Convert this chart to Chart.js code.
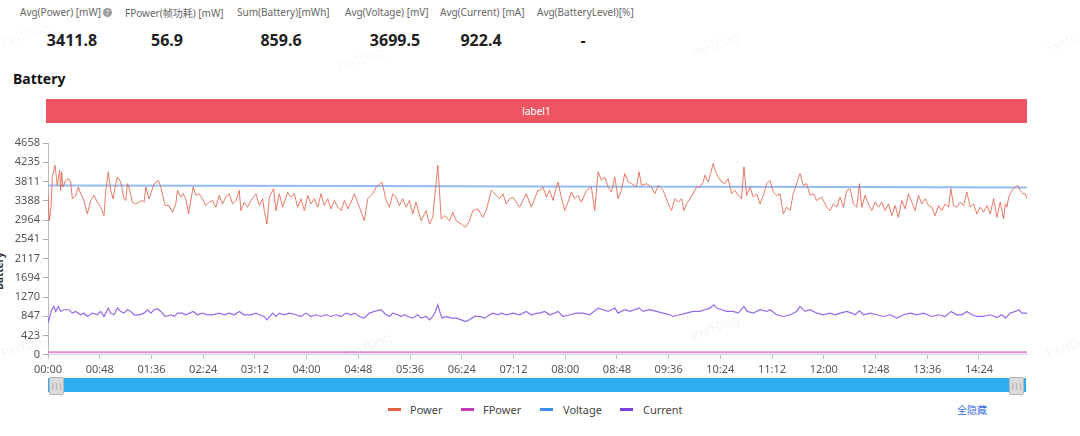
<!DOCTYPE html>
<html>
<head>
<meta charset="utf-8">
<script src="https://cdn.jsdelivr.net/npm/chart.js@4.4.1/dist/chart.umd.min.js"></script>
<style>
  html, body { margin:0; padding:0; background:#fff; }
  body { width:1080px; height:436px; overflow:hidden; position:relative; font-family:'Noto Sans','Noto Sans CJK SC',sans-serif; }
  .lbl { position:absolute; top:5px; font-size:10px; color:#666; white-space:nowrap; }
  .val { position:absolute; top:29px; font-size:16px; font-weight:bold; color:#222; transform:translateX(-50%); white-space:nowrap; }
  .q { display:inline-block; width:9px; height:9px; line-height:9px; border-radius:50%; background:#9a9a9a; color:#fff; font-size:7px; text-align:center; vertical-align:1px; margin-left:2px; }
  .title { position:absolute; left:13px; top:69px; font-size:14px; font-weight:bold; color:#111; }
  .bar { position:absolute; left:46px; top:99px; width:981px; height:24px; background:#ee5563; color:#fff; font-size:10px; text-align:center; line-height:24px; }
  .ytitle { position:absolute; left:-20px; top:264px; font-size:10px; font-weight:bold; color:#333; transform:rotate(-90deg); }
  #wrap { position:absolute; left:0; top:130px; width:1080px; height:250px; }
  .slider { position:absolute; left:48px; top:378px; width:978px; height:14px; background:#2fadf0; }
  .handle { position:absolute; top:377px; width:13px; height:16px; background:#dcdcdc; border:1px solid #b5b5b5; border-radius:2px; color:#888; font-size:7px; line-height:16px; text-align:center; }
  .leg { position:absolute; top:402px; font-size:11px; color:#444; white-space:nowrap; }
  .sw { position:absolute; top:408px; width:13px; height:3px; }
  .hideall { position:absolute; left:957px; top:402px; font-size:10px; color:#3b6fe0; }
  .wm { position:absolute; font-size:13px; color:rgba(0,0,0,0.05); transform:rotate(-20deg); }
</style>
</head>
<body>
<div class="wm" style="left:0px;top:26px;">PerfDog</div>
<div class="wm" style="left:335px;top:50px;">PerfDog</div>
<div class="wm" style="left:690px;top:36px;">PerfDog</div>
<div class="wm" style="left:1045px;top:30px;">PerfDog</div>

<div class="lbl" style="left:20px;">Avg(Power) [mW]<span class="q">?</span></div>
<div class="lbl" style="left:125px;">FPower(帧功耗) [mW]</div>
<div class="lbl" style="left:237px;">Sum(Battery)[mWh]</div>
<div class="lbl" style="left:345px;">Avg(Voltage) [mV]</div>
<div class="lbl" style="left:440px;">Avg(Current) [mA]</div>
<div class="lbl" style="left:537px;">Avg(BatteryLevel)[%]</div>
<div id="vals"></div>

<div class="title">Battery</div>
<div class="bar">label1</div>
<div class="ytitle">Battery</div>

<div id="wrap"><canvas id="c"></canvas></div>

<div class="wm" style="left:0px;top:336px;">PerfDog</div>
<div class="wm" style="left:342px;top:336px;">PerfDog</div>
<div class="wm" style="left:690px;top:318px;">PerfDog</div>
<div class="wm" style="left:1045px;top:336px;">PerfDog</div>

<div class="slider"></div>
<div class="handle" style="left:49px;">|||</div>
<div class="handle" style="left:1009px;">|||</div>

<div class="sw" style="left:388px;background:#e0603f;"></div><div class="leg" style="left:410px;">Power</div>
<div class="sw" style="left:461px;background:#c43bb8;"></div><div class="leg" style="left:483px;">FPower</div>
<div class="sw" style="left:540px;background:#3a8ee6;"></div><div class="leg" style="left:563px;">Voltage</div>
<div class="sw" style="left:620px;background:#7a3fe2;"></div><div class="leg" style="left:643px;">Current</div>
<div class="hideall">全隐藏</div>

<script>
// ---- summary values ----
const summaryValues = ["3411.8", "56.9", "859.6", "3699.5", "922.4", "-"];
const summaryCenters = [72, 167, 281, 395, 481, 583];

// ---- axis ticks ----
const xTickLabels = ["00:00","00:48","01:36","02:24","03:12","04:00","04:48","05:36","06:24","07:12","08:00","08:48","09:36","10:24","11:12","12:00","12:48","13:36","14:24"];
const yTickValues = [0, 423, 847, 1270, 1694, 2117, 2541, 2964, 3388, 3811, 4235, 4658];

// ---- series: [seconds, value] ----
const powerSeries = [[0,3505],[1.2,2950],[2.8,3246],[4,3912],[6.5,4170],[8.6,3727],[10.8,4060],[11.7,3616],[12.7,4023],[13.9,3690],[16.4,3838],[18.9,3875],[21,3801],[22.6,3431],[25.7,3505],[28.2,3690],[30.3,3542],[33.4,3394],[36.5,3098],[39.6,3394],[42.7,3505],[45.8,3357],[48.9,3246],[52,3061],[53.6,3616],[56,4023],[58.2,3616],[60.4,3431],[62.9,3764],[64.4,3912],[67.5,3801],[70.6,3431],[72.1,3394],[73.7,3764],[75.2,3690],[78.3,3357],[81.4,3320],[84.5,3357],[87.6,3394],[89.2,3357],[90.7,3690],[93.8,3431],[95.4,3542],[98.5,3764],[100.6,3801],[102.5,3838],[104.7,3690],[108.7,3283],[112.4,3283],[115.5,3135],[118.6,3320],[120.2,3616],[123.3,3468],[125.4,3542],[127.9,3431],[130.4,3098],[134.7,3690],[137.2,3505],[140.3,3542],[143.4,3431],[146.5,3283],[149.6,3357],[152.7,3394],[155.8,3246],[158.9,3505],[162,3320],[165.1,3468],[168.2,3542],[171.3,3320],[174.4,3394],[177.5,3616],[179,3172],[182.1,3357],[185.2,3246],[188.3,3394],[193,3542],[196.1,3283],[199.2,3431],[200.7,3172],[203.2,2876],[205.4,3468],[209.4,3653],[211.6,3172],[214.7,3542],[217.8,3246],[222.4,3579],[225.5,3468],[228.6,3542],[231.7,3246],[234.8,3431],[237.9,3172],[241,3505],[244.1,3320],[247.2,3431],[250.3,3246],[253.4,3542],[256.5,3283],[259.6,3431],[262.7,3209],[265.8,3394],[268.9,3246],[272,3172],[275.1,3394],[278.2,3209],[281.3,3357],[284.4,3542],[289,3246],[293.6,2950],[296.7,3431],[301.4,3542],[304.5,3690],[310,3801],[313.8,3394],[316.9,3246],[320,3542],[323,3468],[326.1,3283],[329.2,3431],[332.3,3246],[335.4,3394],[338.5,3098],[341.6,3357],[346.3,2950],[350.9,3172],[354,2876],[357.1,3024],[359.6,3653],[361.8,4170],[363.3,3616],[364.9,2987],[368,3061],[372.6,2950],[375.7,3135],[378.8,2950],[383.5,2876],[387.5,2803],[391.2,2950],[394.3,3172],[399,3209],[403.6,3024],[406.7,3172],[411.4,3616],[416,3505],[419.1,3431],[422.2,3542],[425.3,3320],[428.4,3431],[431.5,3468],[437.7,3246],[443.9,3542],[448.5,3246],[454.7,3616],
[456.3,3616],[459.4,3690],[462.5,3468],[465.6,3616],[468.7,3394],[471.8,3690],[473.3,3801],[476.4,3468],[479.5,3172],[482.6,3357],[485.7,3579],[488.8,3431],[491.9,3505],[495,3357],[499.7,3616],[504.3,3690],[507.4,3172],[510.5,4023],[513.6,3838],[516.7,3912],[519.8,3690],[522.9,3579],[526,3912],[529.1,3431],[532.2,3616],[535.3,3986],[538.4,3801],[541.5,3764],[546.1,3690],[548.6,4023],[550.8,3727],[555.4,3764],[560.1,3690],[563.2,3542],[566.3,3727],[570.9,3616],[575.6,3320],[578.7,3172],[581.8,3431],[584.9,3357],[588,3431],[590.1,3172],[592.6,3320],[595.7,3431],[598.8,3542],[601.9,3690],[605,3690],[608.1,3801],[609.6,3949],[612.7,3801],[614.9,3986],[617.4,4207],[619.6,4023],[622,3912],[625.1,3801],[628.2,3764],[631.3,3875],[634.4,3542],[637.5,3616],[640.6,3505],[643.7,3431],[645.9,4133],[648.4,3505],[651.5,3690],[654.6,3468],[657.7,3542],[660.8,3320],[663.9,3505],[667,3764],[670.1,3838],[673.2,3579],[676.3,3505],[679.4,3542],[682.5,3098],[685.6,3246],[688.7,3172],[691.7,3542],[694.8,3764],[697.9,3986],[701,3727],[704.1,3764],[707.2,3505],[710.3,3542],[713.4,3394],[718,3468],[722.7,3246],[725.8,3172],[728.9,3320],[732,3246],[735.1,3468],[738.2,3246],[741.3,3616],[744.4,3653],[747.5,3320],[750.6,3246],[753.1,3764],[755.2,3246],[758.3,3505],[761.4,3320],[764.5,3172],[767.6,3357],[770.7,3246],[773.8,3357],[776.9,3172],[780,3320],[783.1,3061],[786.2,3283],[789.3,3024],[792.4,3394],[795.5,3209],[798.6,3542],[801.7,3357],[804.8,3172],[807.9,3505],[811,3320],[814.1,3431],[817.2,3283],[820.3,3246],[823.4,3061],[826.5,3283],[829.6,3172],[832.7,3320],[835.8,3246],[838,3653],[840.4,3283],[843.5,3246],[846.6,3357],[849.7,3283],[852.8,3579],[855.9,3246],[859,3320],[862.1,3098],[865.2,3246],[868.3,3135],[871.4,3283],[874.5,3098],[877.6,3431],[880.7,3024],[883.8,3357],[886.9,2987],[888.5,3320],[890,3246],[891.6,3468],[894.7,3616],[897.8,3690],[899.9,3727],[902.4,3616],[904.9,3542],[907,3542],[908.6,3431]];

const currentSeries = [[0,806],[0.9,769],[3.4,991],[5.5,1065],[7.1,954],[9.6,1065],[11.7,954],[14.8,991],[19.5,991],[22.6,917],[25.7,954],[30.3,880],[33.4,917],[36.5,843],[41.2,917],[45.8,880],[48.9,954],[52,843],[56,1027],[58.2,917],[61.3,880],[64.4,1027],[67.5,954],[70.6,917],[73.7,991],[76.8,954],[79.9,880],[84.5,880],[89.2,917],[92.3,991],[95.4,917],[98.5,991],[101.6,1013],[104.7,954],[108.7,843],[114,880],[117.1,843],[120.2,917],[124.8,917],[127.9,880],[134.7,954],[138.7,880],[143.4,917],[148,880],[152.7,880],[158.9,917],[163.5,880],[168.2,917],[172.8,880],[177.5,954],[182.1,880],[188.3,880],[193,917],[196.1,880],[200.7,843],[203.2,769],[208.5,917],[211.6,843],[214.7,917],[219.3,880],[224,917],[230.1,880],[234.8,843],[239.4,917],[244.1,843],[248.7,880],[253.4,843],[258,880],[262.7,843],[267.3,880],[272,843],[276.6,917],[281.3,880],[284.4,917],[289,843],[293.6,806],[298.3,917],[302.9,954],[309.1,991],[313.8,880],[316.9,843],[320,917],[324.6,880],[327.7,843],[330.8,880],[333.9,843],[338.5,806],[343.2,880],[346.3,806],[350.9,843],[354,769],[357.1,843],[359.6,954],[361.8,1101],[364,917],[365.8,806],[369.5,843],[374.2,806],[378.8,806],[383.5,769],[387.5,732],[391.2,769],[395.9,843],[400.5,843],[405.2,806],[409.8,880],[412.9,917],[417.6,880],[420.7,917],[425.3,880],[431.5,917],[437.7,880],[443.9,954],[448.5,880],[454.7,917],
[456.3,917],[461,954],[465.6,880],[470.2,917],[473.3,954],[478,843],[484.2,880],[490.4,917],[496.6,917],[502.8,880],[510.5,1027],[515.2,991],[519.8,954],[526,1027],[529.1,917],[535.3,991],[540,954],[548.6,1027],[552.3,954],[558.5,991],[564.7,954],[570.9,917],[577.1,880],[580.2,843],[586.4,880],[592.6,917],[598.8,954],[605,954],[609.6,991],[614.3,1027],[618,1101],[620.5,1027],[625.1,991],[629.8,954],[636,954],[640.6,917],[645.9,1065],[649,954],[654.6,917],[660.8,991],[667,954],[670.1,991],[676.3,880],[682.5,843],[688.7,880],[694.8,954],[697.9,1065],[702.6,954],[707.2,991],[713.4,917],[719.6,880],[725.8,917],[730.5,880],[735.1,917],[741.3,954],[745.9,917],[749,880],[753.1,969],[756.8,880],[763,917],[769.2,880],[775.4,843],[781.6,880],[787.8,806],[794,880],[800.2,917],[806.4,880],[812.6,917],[820.3,843],[826.5,880],[832.7,843],[838,954],[843.5,880],[848.2,880],[852.8,954],[857.5,880],[862.1,843],[868.3,843],[874.5,880],[880.7,821],[885.3,880],[888.5,806],[893.1,917],[897.8,954],[900.9,991],[904,917],[907,917],[908.6,917]];

const voltageSeries = [[0,3722],[150,3716],[300,3710],[450,3703],[600,3695],[750,3688],[908.6,3682]];
const fpowerSeries = [[0,55],[60,58],[150,56],[250,57],[350,55],[450,58],[550,57],[650,56],[750,58],[850,56],[908.6,57]];

// header values
const vals = document.getElementById('vals');
summaryValues.forEach((v, i) => {
  const d = document.createElement('div');
  d.className = 'val';
  d.style.left = summaryCenters[i] + 'px';
  d.textContent = v;
  vals.appendChild(d);
});

const toXY = s => s.map(p => ({x: p[0], y: p[1]}));
const toSec = l => { const [m, s] = l.split(':').map(Number); return m * 60 + s; };
const fmt = v => { const m = Math.floor(v / 60), s = Math.round(v % 60); return String(m).padStart(2,'0') + ':' + String(s).padStart(2,'0'); };
const xMax = powerSeries[powerSeries.length - 1][0];

new Chart(document.getElementById('c'), {
  type: 'line',
  data: {
    datasets: [
      { label: 'Power', data: toXY(powerSeries), borderColor: 'rgba(226,100,78,0.85)', borderWidth: 1 },
      { label: 'FPower', data: toXY(fpowerSeries), borderColor: 'rgba(222,130,212,0.9)', borderWidth: 2 },
      { label: 'Voltage', data: toXY(voltageSeries), borderColor: 'rgba(130,175,242,0.85)', borderWidth: 2 },
      { label: 'Current', data: toXY(currentSeries), borderColor: 'rgba(138,90,230,0.9)', borderWidth: 1.2 }
    ]
  },
  options: {
    responsive: true,
    maintainAspectRatio: false,
    animation: false,
    events: [],
    elements: { point: { radius: 0 }, line: { tension: 0 } },
    layout: { padding: { left: 0, right: 53, top: 13, bottom: 0 } },
    plugins: { legend: { display: false }, tooltip: { enabled: false } },
    scales: {
      x: {
        type: 'linear', min: 0, max: xMax,
        afterBuildTicks: s => { s.ticks = xTickLabels.map(l => ({ value: toSec(l) })); },
        ticks: { autoSkip: false, maxRotation: 0, padding: 4, color: '#555', font: { size: 11, family: "'Noto Sans'" }, callback: v => fmt(v) },
        grid: { drawOnChartArea: false, drawTicks: true, tickLength: 4, color: '#bbb' },
        border: { color: '#ddd' }
      },
      y: {
        min: 0, max: yTickValues[yTickValues.length - 1],
        afterBuildTicks: s => { s.ticks = yTickValues.map(v => ({ value: v })); },
        afterFit: s => { s.width = 48; },
        ticks: { padding: 3, color: '#555', font: { size: 11, family: "'Noto Sans'" }, callback: v => String(v) },
        grid: { drawOnChartArea: false, drawTicks: true, tickLength: 5, color: '#aaa' },
        border: { color: '#bbb' }
      }
    }
  }
});
</script>
</body>
</html>
